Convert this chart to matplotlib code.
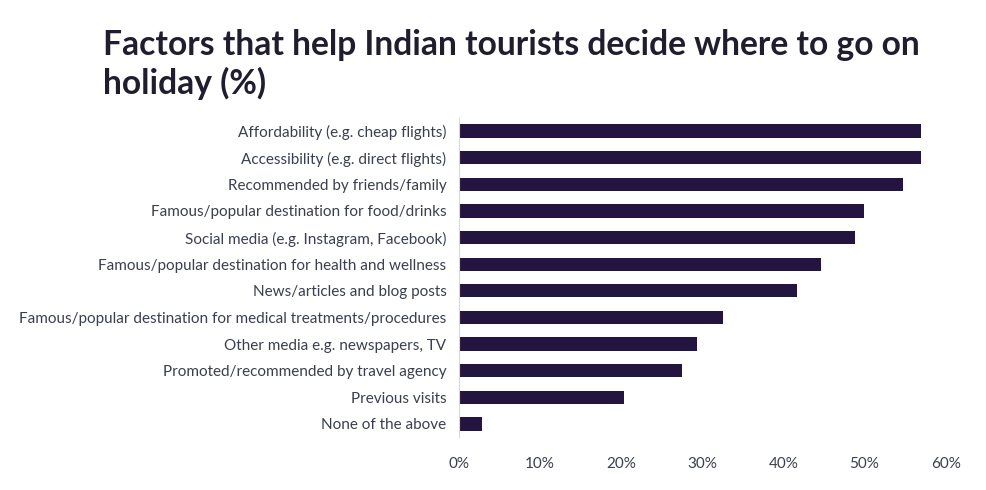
import matplotlib.pyplot as plt
from matplotlib.ticker import FuncFormatter

factors = ['Affordability (e.g. cheap flights)',
           'Accessibility (e.g. direct flights)',
           'Recommended by friends/family',
           'Famous/popular destination for food/drinks',
           'Social media (e.g. Instagram, Facebook)',
           'Famous/popular destination for health and wellness',
           'News/articles and blog posts',
           'Famous/popular destination for medical treatments/procedures',
           'Other media e.g. newspapers, TV',
           'Promoted/recommended by travel agency',
           'Previous visits',
           'None of the above']
shares = [57.0, 57.0, 54.8, 49.9, 48.8, 44.7, 41.7, 32.5, 29.4, 27.5, 20.3, 2.8]
x_ticks = [0, 10, 20, 30, 40, 50, 60]

plt.rcParams['font.family'] = ['Lato', 'DejaVu Sans']

fig = plt.figure(figsize=(9.86, 4.90), dpi=100)
ax = fig.add_axes([0.4655, 0.1076, 0.4935, 0.6522])

pos = list(range(len(factors)))
ax.barh(pos, shares, height=0.5, color='#231440')
ax.set_ylim(len(factors) - 0.5, -0.5)
ax.set_xlim(0, 60)
ax.set_yticks(pos)
ax.set_yticklabels(factors, fontsize=11, color='#3a3f4f')
ax.set_xticks(x_ticks)
ax.xaxis.set_major_formatter(FuncFormatter(lambda v, p: '%d%%' % v))
ax.tick_params(axis='x', labelsize=11, labelcolor='#3a3f4f', length=0, pad=14)
ax.tick_params(axis='y', length=0, pad=9)

for s in ['top', 'right', 'bottom']:
    ax.spines[s].set_visible(False)
ax.spines['left'].set_color('#d9d9d9')

fig.text(0.1045, 0.94, 'Factors that help Indian tourists decide where to go on\nholiday (%)',
         fontsize=24.2, fontweight='bold', color='#1f1d2e', va='top', ha='left',
         linespacing=1.22)

fig.savefig('out.png', dpi=100)
